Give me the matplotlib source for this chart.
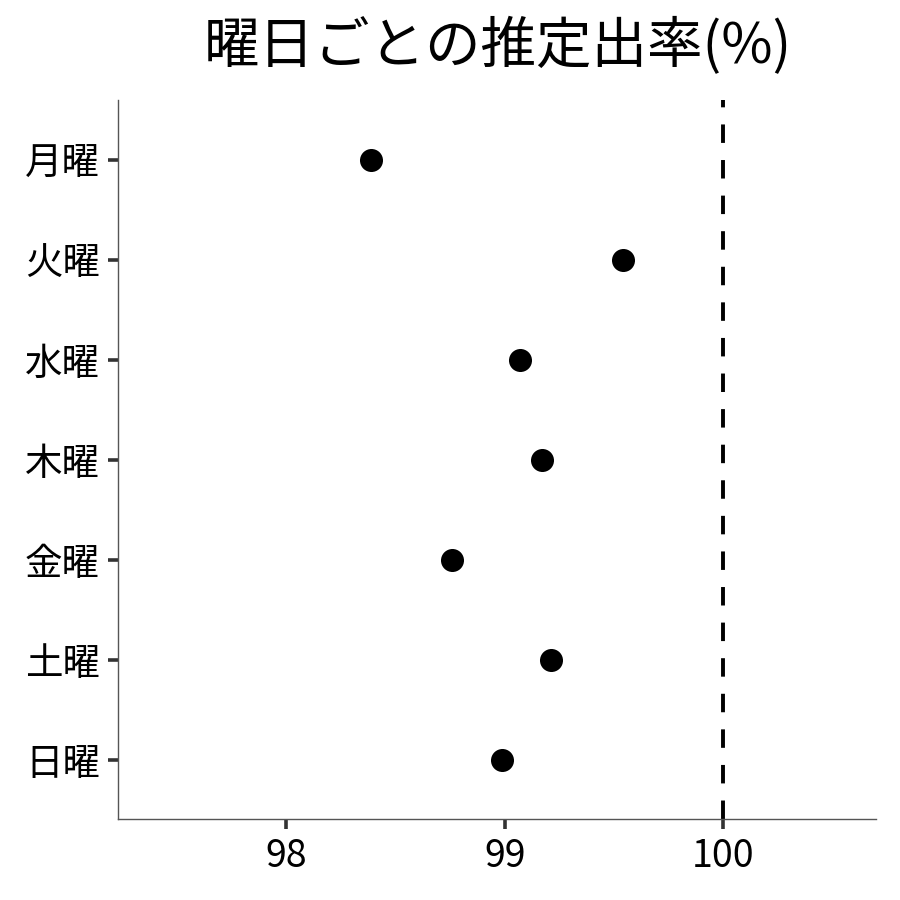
import matplotlib
matplotlib.use("Agg")
import matplotlib.pyplot as plt

plt.rcParams['font.family'] = ['Noto Sans CJK JP', 'DejaVu Sans']

dias = ["月曜", "火曜", "水曜", "木曜", "金曜", "土曜", "日曜"]
tasa = [98.39, 99.54, 99.07, 99.17, 98.76, 99.21, 98.99]
referencia = 100
xticks = [98, 99, 100]

fig = plt.figure(figsize=(9, 9), dpi=100)
ax = fig.add_axes([118/900, 81/900, 758/900, 719/900])

pos = list(range(len(dias)))
ax.scatter(tasa, pos, s=275, color="black", linewidths=0, zorder=3)
ax.axvline(referencia, color="black", linestyle=(0, (4.75, 4.4)), linewidth=2.8)

ax.set_xlim(97.23, 100.70)
ax.set_ylim(len(dias) - 1 + 0.59, -0.6)
ax.set_yticks(pos)
ax.set_yticklabels(dias)
ax.set_xticks(xticks)
ax.set_xticklabels([str(x) for x in xticks])

for lado in ["top", "right"]:
    ax.spines[lado].set_visible(False)
for lado in ["left", "bottom"]:
    ax.spines[lado].set_color("#555555")
    ax.spines[lado].set_linewidth(1.0)
ax.tick_params(axis="both", length=7, width=2.6, color="#333333",
               labelsize=27, labelcolor="black", pad=6)

fig.text(0.553, 0.948, "曜日ごとの推定出率(%)", fontsize=40, ha="center", va="center")

fig.savefig("out.png", dpi=100)
